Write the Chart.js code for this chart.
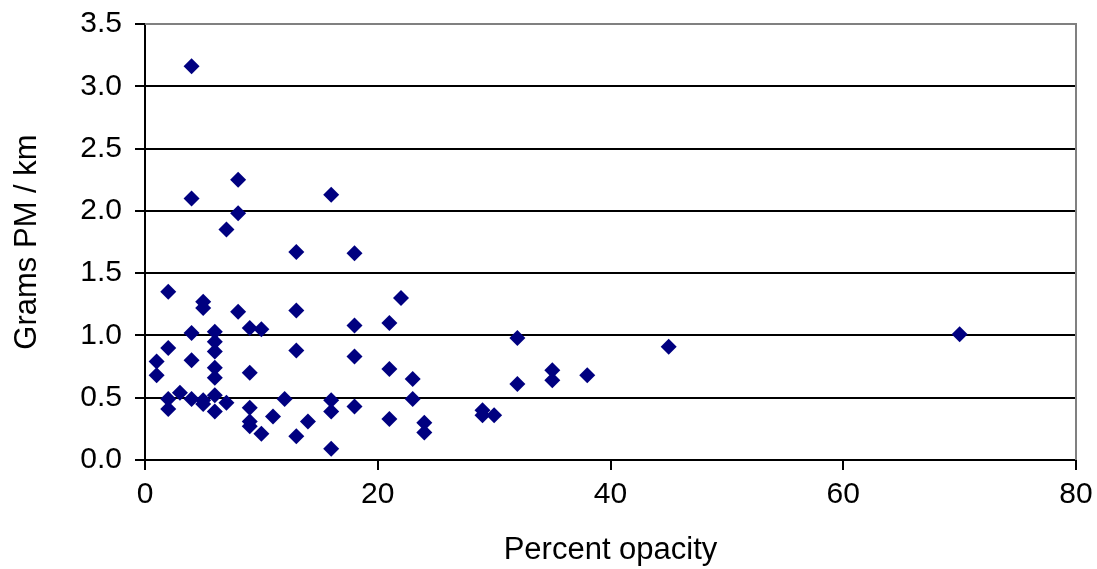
<!DOCTYPE html>
<html>
<head>
<meta charset="utf-8">
<script src="https://cdn.jsdelivr.net/npm/chart.js@4"></script>
<style>
  html, body { margin: 0; padding: 0; background: #fff; }
</style>
</head>
<body>
<canvas id="scatterChart" width="1097" height="569"></canvas>
<script>
// opacity (%) vs grams PM per km
const opacity = [1, 1, 2, 2, 2, 2, 3, 4, 4, 4, 4, 4, 5, 5, 5, 5, 6, 6, 6, 6, 6, 6, 6, 7, 7, 8, 8, 8,
  9, 9, 9, 9, 9, 10, 10, 11, 12, 13, 13, 13, 13, 14, 16, 16, 16, 16, 18, 18, 18, 18,
  21, 21, 21, 22, 23, 23, 24, 24, 29, 29, 30, 32, 32, 35, 35, 38, 45, 70];
const gramsPerKm = [0.79, 0.68, 1.35, 0.90, 0.49, 0.41, 0.54, 3.16, 2.10, 1.02, 0.80, 0.49, 1.27, 1.22, 0.48, 0.45,
  1.03, 0.95, 0.87, 0.74, 0.66, 0.52, 0.39, 1.85, 0.46, 2.25, 1.98, 1.19,
  1.06, 0.70, 0.42, 0.31, 0.27, 1.05, 0.21, 0.35, 0.49, 1.67, 1.20, 0.88, 0.19, 0.31, 2.13, 0.48, 0.39, 0.09,
  1.66, 1.08, 0.83, 0.43, 1.10, 0.73, 0.33, 1.30, 0.65, 0.49, 0.30, 0.22, 0.40, 0.36, 0.36, 0.98, 0.61,
  0.72, 0.64, 0.68, 0.91, 1.01];
const xTicks = [0, 20, 40, 60, 80];
const yTicks = [0, 0.5, 1.0, 1.5, 2.0, 2.5, 3.0, 3.5];

const points = opacity.map((x, i) => ({ x: x, y: gramsPerKm[i] }));

// gray frame on top and right of the plot area
const frame = {
  id: 'frame',
  afterDraw(chart) {
    const a = chart.chartArea;
    const c = chart.ctx;
    c.save();
    c.strokeStyle = '#808080';
    c.lineWidth = 2;
    c.beginPath();
    c.moveTo(a.left, a.top);
    c.lineTo(a.right, a.top);
    c.lineTo(a.right, a.bottom);
    c.stroke();
    c.restore();
  }
};

const fontFam = 'Liberation Sans, Arial, sans-serif';

new Chart(document.getElementById('scatterChart'), {
  type: 'scatter',
  data: {
    datasets: [{
      data: points,
      pointStyle: 'rectRot',
      pointRadius: 8,
      backgroundColor: '#000080',
      borderColor: '#000080',
      borderWidth: 0
    }]
  },
  options: {
    responsive: false,
    animation: false,
    layout: { padding: { top: 24, right: 21, left: 0, bottom: 0 } },
    plugins: { legend: { display: false }, tooltip: { enabled: false } },
    scales: {
      x: {
        type: 'linear',
        min: 0,
        max: 80,
        afterBuildTicks: s => { s.ticks = xTicks.map(v => ({ value: v })); },
        afterFit: s => { s.height = 109; s.paddingLeft = 0; s.paddingRight = 0; },
        grid: { drawOnChartArea: false, drawTicks: true, tickLength: 10, color: '#000', lineWidth: 2 },
        border: { color: '#000', width: 2 },
        ticks: { color: '#000', padding: 7, font: { family: fontFam, size: 30 } },
        title: { display: true, text: 'Percent opacity', color: '#000', padding: 0,
          font: { family: fontFam, size: 31 } }
      },
      y: {
        type: 'linear',
        min: 0,
        max: 3.5,
        afterBuildTicks: s => { s.ticks = yTicks.map(v => ({ value: v })); },
        afterFit: s => { s.width = 145; s.paddingTop = 0; s.paddingBottom = 0; },
        grid: { color: '#000', lineWidth: 2, tickLength: 10 },
        border: { color: '#000', width: 2 },
        ticks: { color: '#000', padding: 13, callback: v => v.toFixed(1),
          font: { family: fontFam, size: 30 } },
        title: { display: true, text: 'Grams PM / km', color: '#000', padding: { top: 9, bottom: 0 },
          font: { family: fontFam, size: 31 } }
      }
    }
  },
  plugins: [frame]
});
</script>
</body>
</html>
